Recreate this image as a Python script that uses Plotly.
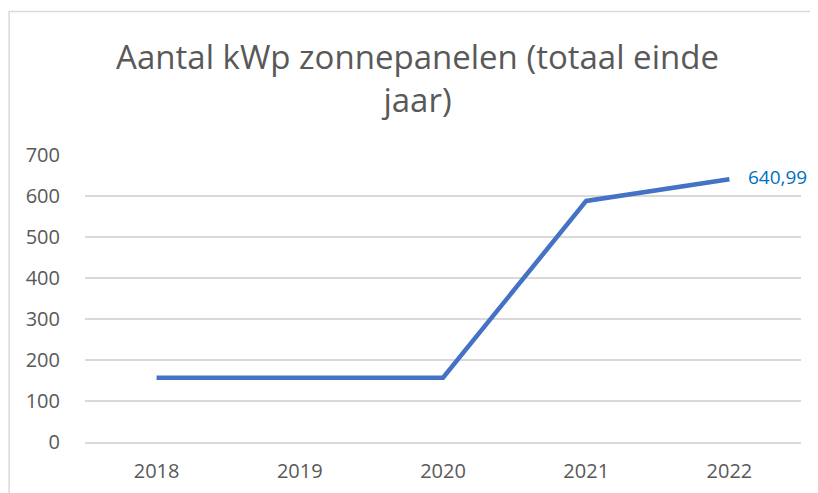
import plotly.graph_objects as go

# data
jaren = ["2018", "2019", "2020", "2021", "2022"]
kwp = [157, 157, 157, 588, 640.99]
y_ticks = [0, 100, 200, 300, 400, 500, 600, 700]

titel = "Aantal kWp zonnepanelen (totaal einde<br>jaar)"
grijs = "#595959"
raster = "#d9d9d9"

fig = go.Figure(go.Scatter(x=jaren, y=kwp, mode="lines",
                           line=dict(color="#4472C4", width=4.5),
                           hoverinfo="x+y"))

# label bij laatste punt (x als categorie-index, anders ziet plotly "2022" als getal)
fig.add_annotation(x=len(jaren) - 1, y=kwp[-1], text=f"{kwp[-1]:.2f}".replace(".", ","),
                   showarrow=False, xanchor="left", xshift=17, yshift=2,
                   font=dict(family="Open Sans", size=19, color="#0070C0"))

# kader rond de grafiek (Excel-stijl), alleen links en boven zichtbaar
fig.add_shape(type="rect", xref="paper", yref="paper",
              x0=-0.106, x1=1.05, y0=-0.3, y1=1.5,
              line=dict(color="#d9d9d9", width=1.5), layer="below")

# pagina heeft 8px body-marge, daarom 810x485
fig.update_layout(
    width=810, height=485,
    paper_bgcolor="white", plot_bgcolor="white",
    margin=dict(l=77, r=17, t=147, b=51),
    showlegend=False,
    title=dict(text=titel, x=0.5056, xanchor="center", xref="container",
               y=1 - 61 / 485, yanchor="top", yref="container",
               font=dict(family="Open Sans", size=33, color=grijs)),
    font=dict(family="Open Sans", size=20, color=grijs),
)
fig.update_xaxes(type="category", categoryorder="array", categoryarray=jaren,
                 range=[-0.5, len(jaren) - 0.5], automargin=False,
                 showgrid=False, showline=True, linecolor=raster,
                 linewidth=1.5, ticks="", ticklabelstandoff=10,
                 tickfont=dict(size=20, color=grijs))
fig.update_yaxes(range=[0, 700], tickvals=y_ticks, showgrid=True, gridcolor=raster,
                 gridwidth=1.5, zeroline=False, showline=False, ticks="", automargin=False,
                 ticklabelstandoff=24, tickfont=dict(size=20, color=grijs))

fig.write_html("out.html")
